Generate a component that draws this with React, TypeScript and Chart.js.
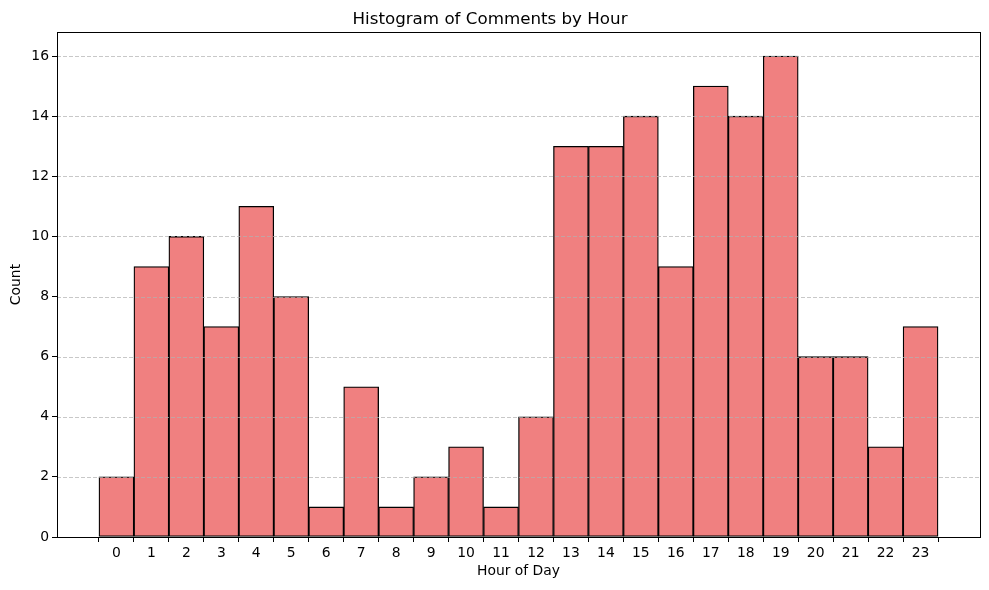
import React, { useEffect, useRef } from "react";
import { Chart, registerables } from "chart.js";

Chart.register(...registerables);

const hours = [0, 1, 2, 3, 4, 5, 6, 7, 8, 9, 10, 11, 12, 13, 14, 15, 16, 17, 18, 19, 20, 21, 22, 23];
const counts = [2, 9, 10, 7, 11, 8, 1, 5, 1, 2, 3, 1, 4, 13, 13, 14, 9, 15, 14, 16, 6, 6, 3, 7];
const yTicks = [0, 2, 4, 6, 8, 10, 12, 14, 16];

const FONT = "'DejaVu Sans', sans-serif";

const overlayPlugin = {
  id: "overlay",
  afterDatasetsDraw(chart: any) {
    const { ctx, chartArea } = chart;
    const y = chart.scales.y;
    ctx.save();
    ctx.strokeStyle = "rgba(176,176,176,0.7)";
    ctx.lineWidth = 1;
    ctx.setLineDash([4, 2]);
    for (const t of yTicks) {
      const py = Math.round(y.getPixelForValue(t)) + 0.5;
      ctx.beginPath();
      ctx.moveTo(chartArea.left, py);
      ctx.lineTo(chartArea.right, py);
      ctx.stroke();
    }
    ctx.setLineDash([]);
    ctx.strokeStyle = "#000";
    ctx.lineWidth = 1;
    ctx.strokeRect(
      Math.round(chartArea.left) + 0.5,
      Math.round(chartArea.top) + 0.5,
      Math.round(chartArea.right - chartArea.left),
      Math.round(chartArea.bottom - chartArea.top)
    );
    ctx.restore();
  },
};

export default function App() {
  const ref = useRef<HTMLCanvasElement | null>(null);
  useEffect(() => {
    document.body.style.margin = "0";
    const chart = new Chart(ref.current as HTMLCanvasElement, {
      type: "bar",
      data: {
        datasets: [
          {
            data: hours.map((h, i) => ({ x: h, y: counts[i] })),
            backgroundColor: "#F08080",
            borderColor: "#000000",
            borderWidth: 1.3,
            borderSkipped: false,
            categoryPercentage: 1,
            barPercentage: 1,
          } as any,
        ],
      },
      options: {
        animation: false,
        responsive: false,
        maintainAspectRatio: false,
        layout: { padding: { left: 0, right: 9, top: 0, bottom: 0 } },
        plugins: {
          legend: { display: false },
          tooltip: { enabled: false },
          title: {
            display: true,
            text: "Histogram of Comments by Hour",
            color: "#000",
            font: { family: FONT, size: 16.7, weight: "normal" },
            padding: { top: 10, bottom: 2 },
          },
        },
        scales: {
          x: {
            type: "linear",
            min: -1.7,
            max: 24.7,
            offset: false,
            afterBuildTicks: (axis: any) => {
              axis.ticks = hours.map((v) => ({ value: v }));
            },
            afterFit: (axis: any) => {
              axis.height = 53;
            },
            grid: {
              display: true,
              drawOnChartArea: false,
              drawTicks: true,
              tickLength: 5,
              tickColor: "#000",
              tickWidth: 1,
            },
            border: { display: false },
            ticks: {
              color: "#000",
              font: { family: FONT, size: 13.9 },
              padding: 3,
              maxRotation: 0,
              autoSkip: false,
            },
            title: {
              display: true,
              text: "Hour of Day",
              color: "#000",
              font: { family: FONT, size: 13.9 },
              padding: { top: 0, bottom: 10 },
            },
          },
          y: {
            type: "linear",
            min: 0,
            max: 16.8,
            afterBuildTicks: (axis: any) => {
              axis.ticks = yTicks.map((v) => ({ value: v }));
            },
            afterFit: (axis: any) => {
              axis.width = 57;
            },
            grid: {
              display: true,
              drawOnChartArea: false,
              drawTicks: true,
              tickLength: 5,
              tickColor: "#000",
              tickWidth: 1,
            },
            border: { display: false },
            ticks: {
              color: "#000",
              font: { family: FONT, size: 13.9 },
              padding: 3,
              autoSkip: false,
            },
            title: {
              display: true,
              text: "Count",
              color: "#000",
              font: { family: FONT, size: 13.9 },
              padding: { top: 8, bottom: 8 },
            },
          },
        },
      },
      plugins: [overlayPlugin],
    } as any);
    return () => chart.destroy();
  }, []);
  return (
    <div style={{ width: 989, height: 590, background: "#fff" }}>
      <canvas ref={ref} width={989} height={590} style={{ display: "block" }} />
    </div>
  );
}
